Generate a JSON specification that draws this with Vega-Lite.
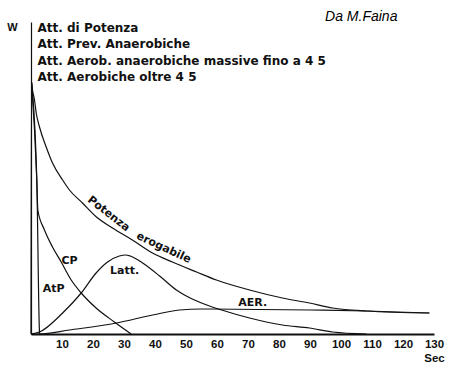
{
  "$schema": "https://vega.github.io/schema/vega-lite/v6.json",
  "autosize": {"type": "none"},
  "padding": {"left": 31, "top": 22, "right": 28, "bottom": 39},
  "width": 403,
  "height": 312,
  "background": "white",
  "config": {
    "view": {"stroke": null},
    "font": "Liberation Sans"
  },
  "datasets": {
    "curves": [
      {"series": "Potenza", "sec": 0, "w": 0},
      {"series": "Potenza", "sec": 0.16, "w": 252},
      {"series": "Potenza", "sec": 0.48, "w": 244},
      {"series": "Potenza", "sec": 1.13, "w": 234},
      {"series": "Potenza", "sec": 1.68, "w": 221},
      {"series": "Potenza", "sec": 2.74, "w": 207},
      {"series": "Potenza", "sec": 4.9, "w": 187},
      {"series": "Potenza", "sec": 6.94, "w": 171},
      {"series": "Potenza", "sec": 10.2, "w": 154},
      {"series": "Potenza", "sec": 12.4, "w": 144},
      {"series": "Potenza", "sec": 16.6, "w": 131},
      {"series": "Potenza", "sec": 21.1, "w": 117},
      {"series": "Potenza", "sec": 26.3, "w": 106},
      {"series": "Potenza", "sec": 32.7, "w": 94},
      {"series": "Potenza", "sec": 39.2, "w": 81},
      {"series": "Potenza", "sec": 45.6, "w": 72},
      {"series": "Potenza", "sec": 53.4, "w": 62},
      {"series": "Potenza", "sec": 59.8, "w": 54},
      {"series": "Potenza", "sec": 70.5, "w": 44},
      {"series": "Potenza", "sec": 81.1, "w": 36},
      {"series": "Potenza", "sec": 89.8, "w": 31},
      {"series": "Potenza", "sec": 97.3, "w": 26},
      {"series": "Potenza", "sec": 108.2, "w": 23},
      {"series": "Potenza", "sec": 128.5, "w": 21},
      {"series": "AtP", "sec": 0.16, "w": 252},
      {"series": "AtP", "sec": 1.87, "w": 154},
      {"series": "AtP", "sec": 2.74, "w": 2},
      {"series": "AtP", "sec": 2.8, "w": 0},
      {"series": "CP", "sec": 0.16, "w": 252},
      {"series": "CP", "sec": 1.87, "w": 154},
      {"series": "CP", "sec": 2.2, "w": 124},
      {"series": "CP", "sec": 4.35, "w": 104},
      {"series": "CP", "sec": 6.94, "w": 87},
      {"series": "CP", "sec": 9.74, "w": 72},
      {"series": "CP", "sec": 12.97, "w": 54},
      {"series": "CP", "sec": 16.2, "w": 41},
      {"series": "CP", "sec": 21.0, "w": 26},
      {"series": "CP", "sec": 26.9, "w": 12},
      {"series": "CP", "sec": 32.3, "w": 0},
      {"series": "Latt", "sec": 0, "w": 0},
      {"series": "Latt", "sec": 2.7, "w": 2},
      {"series": "Latt", "sec": 10.2, "w": 21},
      {"series": "Latt", "sec": 16.2, "w": 41},
      {"series": "Latt", "sec": 21.0, "w": 61},
      {"series": "Latt", "sec": 24.7, "w": 72},
      {"series": "Latt", "sec": 28.5, "w": 78},
      {"series": "Latt", "sec": 30.5, "w": 79},
      {"series": "Latt", "sec": 32.0, "w": 78},
      {"series": "Latt", "sec": 36.0, "w": 71},
      {"series": "Latt", "sec": 41.5, "w": 58},
      {"series": "Latt", "sec": 46.9, "w": 44},
      {"series": "Latt", "sec": 49.5, "w": 39},
      {"series": "Latt", "sec": 55.0, "w": 31},
      {"series": "Latt", "sec": 61.5, "w": 24},
      {"series": "Latt", "sec": 70.5, "w": 16},
      {"series": "Latt", "sec": 81.1, "w": 9},
      {"series": "Latt", "sec": 89.8, "w": 6},
      {"series": "Latt", "sec": 97.3, "w": 2},
      {"series": "Latt", "sec": 108.2, "w": 0},
      {"series": "AER", "sec": 0, "w": 0},
      {"series": "AER", "sec": 2.7, "w": 0},
      {"series": "AER", "sec": 12.4, "w": 4},
      {"series": "AER", "sec": 27.6, "w": 11},
      {"series": "AER", "sec": 39.2, "w": 19},
      {"series": "AER", "sec": 47.9, "w": 24},
      {"series": "AER", "sec": 55.0, "w": 25},
      {"series": "AER", "sec": 90.0, "w": 24},
      {"series": "AER", "sec": 108.2, "w": 23},
      {"series": "AER", "sec": 128.5, "w": 21}
    ],
    "labels": [
      {"text": "Potenza", "sec": 25.0, "w": 120, "angle": 38},
      {"text": "erogabile", "sec": 42.8, "w": 86, "angle": 25},
      {"text": "CP", "sec": 12.4, "w": 73, "angle": 0},
      {"text": "AtP", "sec": 7.3, "w": 45, "angle": 0},
      {"text": "Latt.", "sec": 30.2, "w": 63, "angle": 0},
      {"text": "AER.", "sec": 71.5, "w": 31, "angle": 0}
    ],
    "legend": [
      {"text": "Att. di Potenza", "sec": 2.1, "w": 306},
      {"text": "Att. Prev. Anaerobiche", "sec": 2.1, "w": 290},
      {"text": "Att. Aerob. anaerobiche massive fino a 4 5", "sec": 2.1, "w": 273},
      {"text": "Att. Aerobiche oltre 4 5", "sec": 2.1, "w": 257}
    ],
    "credit": [
      {"text": "Da M.Faina", "sec": 118.2, "w": 317}
    ]
  },
  "encoding": {
    "x": {
      "field": "sec", "type": "quantitative",
      "scale": {"domain": [0, 130], "nice": false, "zero": true},
      "axis": {
        "values": [10, 20, 30, 40, 50, 60, 70, 80, 90, 100, 110, 120, 130],
        "ticks": false, "grid": false, "labelOverlap": false,
        "domainColor": "#111111", "domainWidth": 1.8,
        "labelFontSize": 11.5, "labelFontWeight": "bold", "labelColor": "#111111",
        "labelPadding": 4, "labelFlush": false,
        "title": "Sec", "titleX": 403, "titleY": 24, "titleAlign": "center",
        "titleBaseline": "middle", "titleFontSize": 11.5, "titleFontWeight": "bold", "titleColor": "#111111"
      }
    },
    "y": {
      "field": "w", "type": "quantitative",
      "scale": {"domain": [0, 312], "nice": false},
      "axis": {
        "labels": false, "ticks": false, "grid": false,
        "domainColor": "#111111", "domainWidth": 1.2,
        "title": "W", "titleAngle": 0, "titleX": -19, "titleY": 5,
        "titleAlign": "center", "titleBaseline": "middle",
        "titleFontSize": 11, "titleFontWeight": "bold", "titleColor": "#111111"
      }
    }
  },
  "layer": [
    {
      "data": {"name": "curves"},
      "mark": {"type": "line", "color": "#111111", "strokeWidth": 1.2, "interpolate": "monotone"},
      "encoding": {
        "detail": {"field": "series"}
      }
    },
    {
      "data": {"name": "labels"},
      "mark": {"type": "text", "font": "DejaVu Sans", "fontSize": 11, "fontWeight": "bold", "color": "#111111", "align": "center", "baseline": "middle"},
      "encoding": {
        "text": {"field": "text"},
        "angle": {"field": "angle", "type": "quantitative", "scale": null}
      }
    },
    {
      "data": {"name": "legend"},
      "mark": {"type": "text", "font": "DejaVu Sans", "fontSize": 12, "fontWeight": "bold", "color": "#111111", "align": "left", "baseline": "middle"},
      "encoding": {
        "text": {"field": "text"}
      }
    },
    {
      "data": {"name": "credit"},
      "mark": {"type": "text", "fontSize": 14, "fontStyle": "italic", "color": "#000000", "align": "right", "baseline": "middle"},
      "encoding": {
        "text": {"field": "text"}
      }
    }
  ]
}
